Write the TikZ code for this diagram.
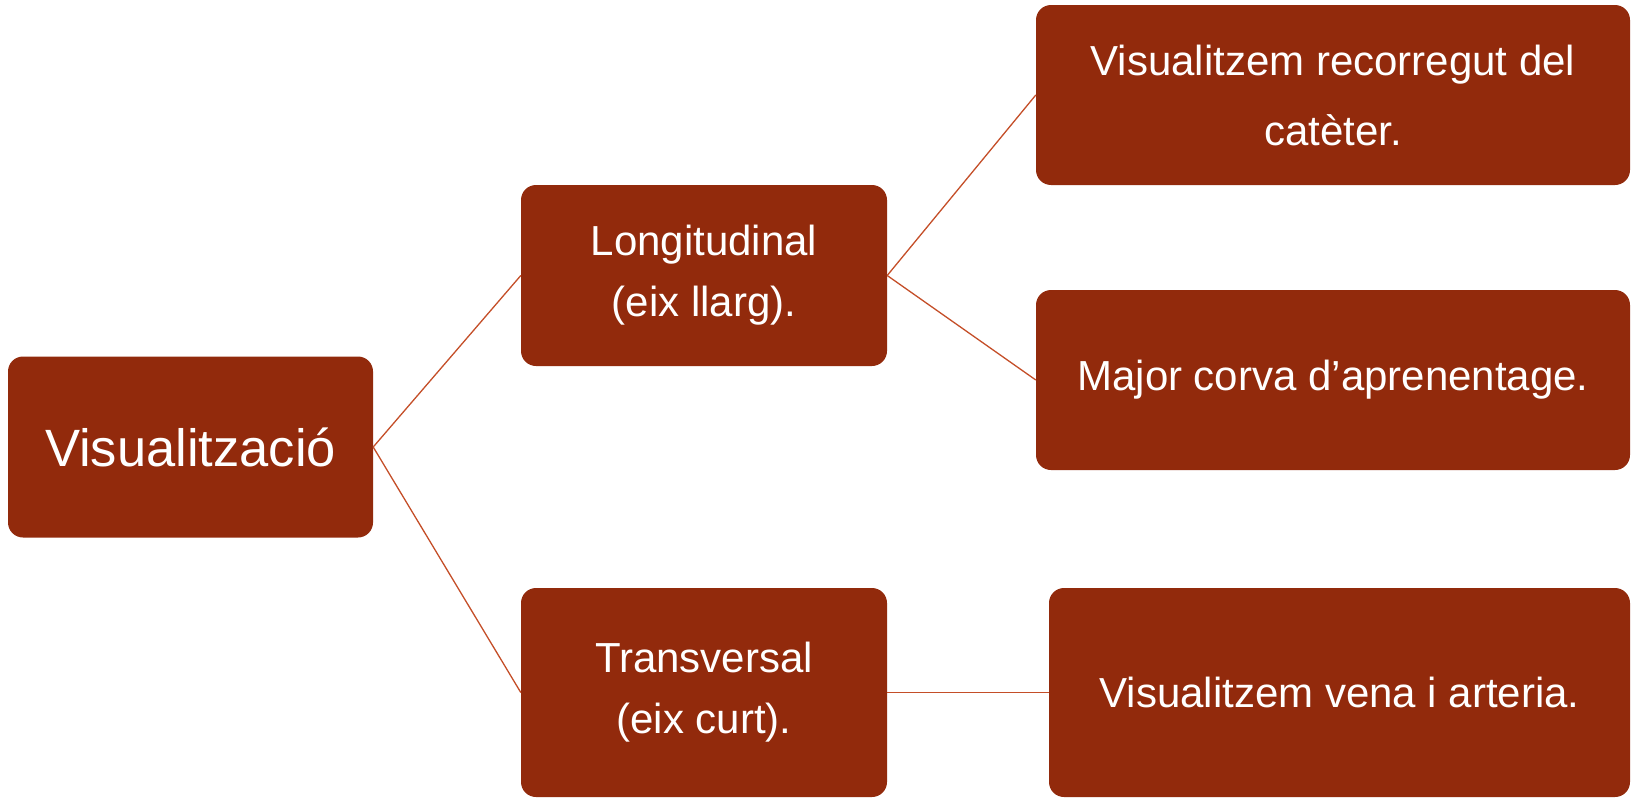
\documentclass[tikz,border=0pt]{standalone}
\usepackage{fontspec}
\setmainfont{Liberation Sans}
\usepackage{xcolor}
\definecolor{boxred}{RGB}{146,42,12}
\definecolor{linkred}{RGB}{196,78,40}

\begin{document}
\begin{tikzpicture}[x=1pt,y=-1pt,
		box/.style={rounded corners=15pt,fill=boxred,text=white,align=center,inner sep=0pt},
		small/.style={font=\fontsize{42}{61}\selectfont},
		link/.style={draw=linkred,line width=1.3pt}]
	\useasboundingbox (0,0) rectangle (1633,798);
	\node[box,minimum width=365pt,minimum height=181pt,font=\fontsize{52.5}{60}\selectfont] (vis) at (190.5,447) {Visualització};
	\node[box,small,minimum width=366pt,minimum height=181pt] (lon) at (704,275.5) {Longitudinal\\(eix llarg).};
	\node[box,small,minimum width=366pt,minimum height=209pt] (tra) at (704,692.5) {Transversal\\(eix curt).};
	\node[box,minimum width=594pt,minimum height=180pt,font=\fontsize{42}{70}\selectfont] (rec) at (1333,95) {Visualitzem recorregut del\\catèter.};
	\node[box,small,minimum width=594pt,minimum height=180pt] (maj) at (1333,380) {Major corva d’aprenentage.};
	\node[box,small,minimum width=581pt,minimum height=209pt] (ven) at (1339.5,692.5) {Visualitzem vena i arteria.};
	\foreach \a/\b in {vis/lon,vis/tra,lon/rec,lon/maj,tra/ven}
		\draw[link] (\a.east)--(\b.west);
\end{tikzpicture}
\end{document}
